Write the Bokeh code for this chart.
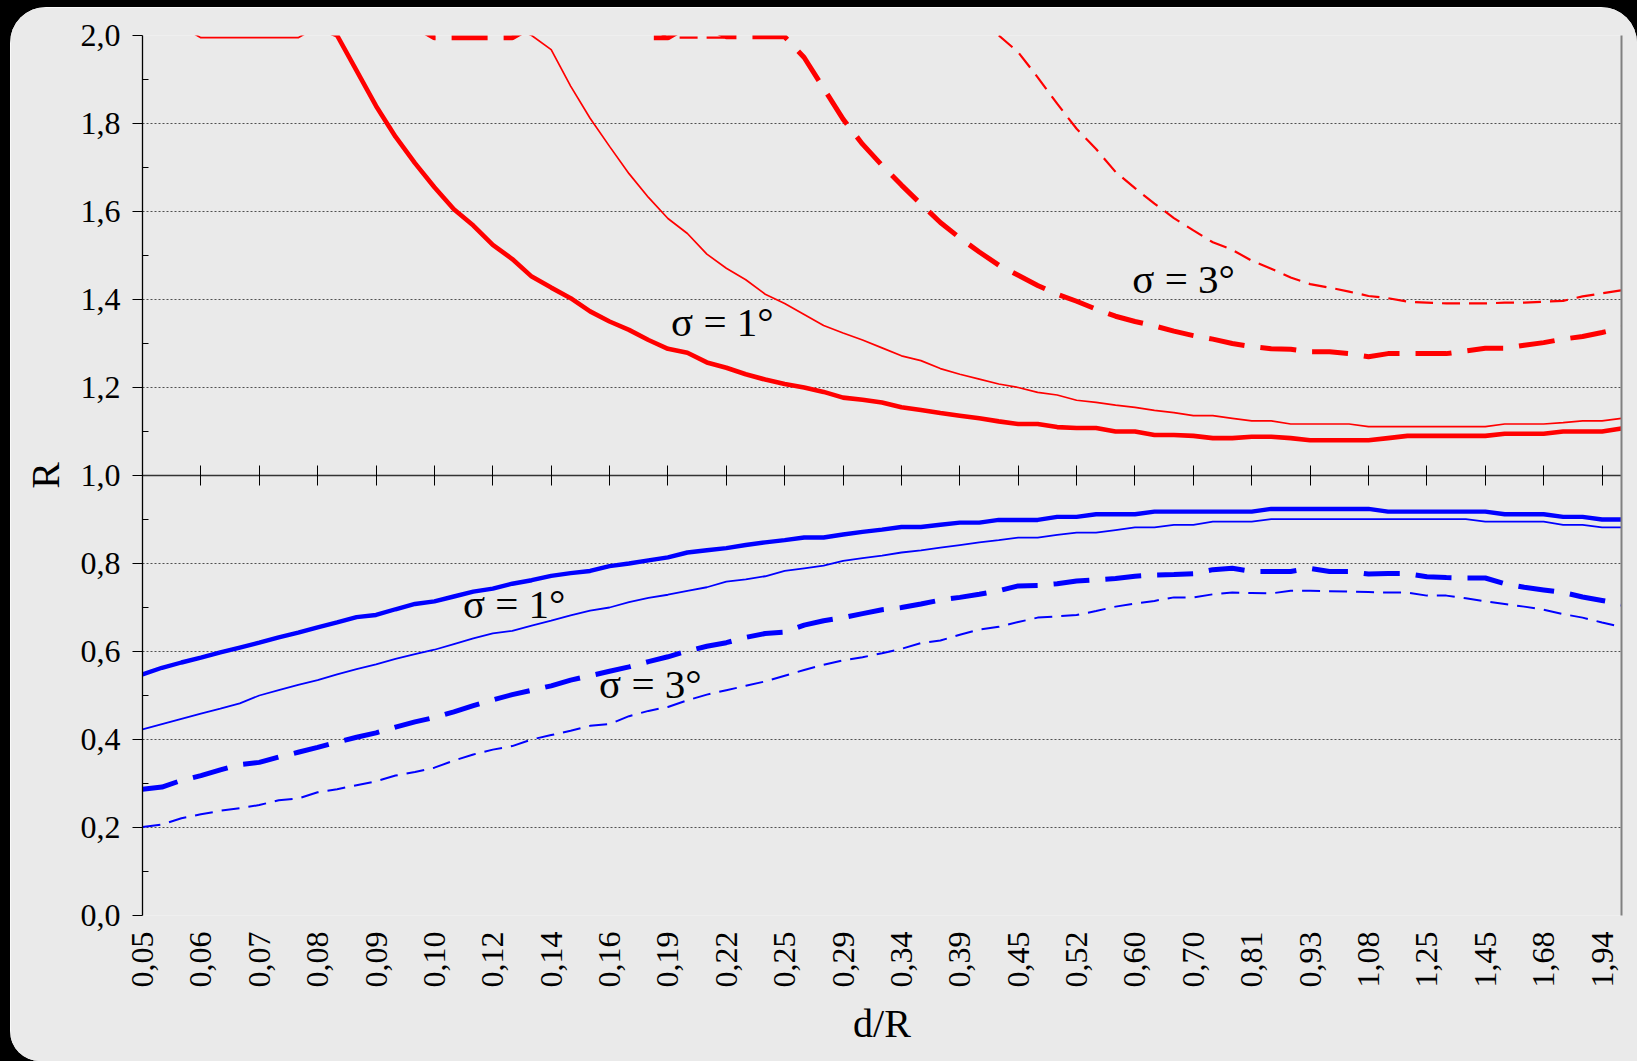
import math
from bokeh.plotting import figure
from bokeh.models import FixedTicker, LinearAxis, Label, CustomJSTickFormatter, Range1d
from bokeh.embed import file_html
from bokeh.resources import INLINE

# ---- data ----
# x: category index (77 categories, a tick label every third category)
tick_labels = ["0,05", "0,06", "0,07", "0,08", "0,09", "0,10", "0,12", "0,14", "0,16",
               "0,19", "0,22", "0,25", "0,29", "0,34", "0,39", "0,45", "0,52", "0,60",
               "0,70", "0,81", "0,93", "1,08", "1,25", "1,45", "1,68", "1,94"]
n_categories = 77
categories = list(range(n_categories))
tick_pos = [3 * k for k in range(len(tick_labels))]

# values shown as 2.02 lie above the axis maximum (off the top of the chart)
# red, sigma = 1 deg, thick solid
red_thick_1 = [2.02, 2.02, 2.02, 2.02, 2.02, 2.02, 2.02, 2.02, 2.02, 2.02, 2.0,
               1.92, 1.84, 1.77, 1.71, 1.655, 1.605, 1.568, 1.524, 1.492, 1.452, 1.427,
               1.403, 1.373, 1.35, 1.331, 1.308, 1.288, 1.279, 1.257, 1.245, 1.23, 1.218,
               1.208, 1.20, 1.19, 1.177, 1.172, 1.166, 1.155, 1.149, 1.142, 1.136, 1.13,
               1.123, 1.117, 1.117, 1.11, 1.108, 1.108, 1.10, 1.10, 1.092, 1.092, 1.09,
               1.085, 1.085, 1.088, 1.088, 1.085, 1.08, 1.08, 1.08, 1.08, 1.085, 1.09,
               1.09, 1.09, 1.09, 1.09, 1.095, 1.095, 1.095, 1.10, 1.10, 1.10, 1.107]
# red, sigma = 1 deg, thin solid
red_thin_1 = [2.02, 2.02, 2.02, 1.995, 1.995, 1.995, 1.995, 1.995, 1.995, 2.02, 2.02,
              2.02, 2.02, 2.02, 2.02, 2.02, 2.02, 2.02, 2.02, 2.02, 2.0,
              1.968, 1.885, 1.812, 1.748, 1.686, 1.632, 1.584, 1.55, 1.503, 1.471, 1.445,
              1.412, 1.391, 1.366, 1.341, 1.324, 1.308, 1.29, 1.272, 1.261, 1.243, 1.23,
              1.219, 1.208, 1.20, 1.189, 1.183, 1.171, 1.166, 1.16, 1.155, 1.148, 1.143,
              1.136, 1.136, 1.13, 1.124, 1.124, 1.117, 1.117, 1.117, 1.117, 1.111, 1.111,
              1.111, 1.111, 1.111, 1.111, 1.111, 1.117, 1.117, 1.117, 1.12, 1.124, 1.124, 1.13]
# red, sigma = 3 deg, thick dashed
red_thick_3 = [2.02, 2.02, 2.02, 2.02, 2.02, 2.02, 2.02, 2.02, 2.02, 2.02, 2.02, 2.02, 2.02,
               2.02, 2.02, 1.995, 1.995, 1.995, 1.995, 1.995, 2.02, 2.02, 2.02, 2.02, 2.02,
               2.02, 1.995, 1.995, 2.02, 2.02, 1.997, 1.997, 1.997, 1.997,
               1.95, 1.88, 1.81, 1.753, 1.705, 1.66, 1.617, 1.575, 1.54, 1.508, 1.478,
               1.455, 1.432, 1.412, 1.396, 1.378, 1.362, 1.35, 1.34, 1.328, 1.318, 1.31,
               1.30, 1.293, 1.288, 1.287, 1.281, 1.281, 1.277, 1.27, 1.277, 1.277, 1.277,
               1.277, 1.283, 1.289, 1.289, 1.296, 1.302, 1.31, 1.316, 1.325, 1.335]
# red, sigma = 3 deg, thin dashed
red_thin_3 = [2.02, 2.02, 2.02, 2.02, 2.02, 2.02, 2.02, 2.02, 2.02, 2.02, 2.02, 2.02, 2.02,
              2.02, 2.02, 2.02, 2.02, 2.02, 2.02, 2.02, 2.02, 2.02, 2.02, 2.02, 2.02, 2.02,
              2.02, 1.995, 1.995, 1.995, 1.995, 2.02, 2.02, 2.02, 2.02, 2.02, 2.02, 2.02,
              2.02, 2.02, 2.02, 2.02, 2.02, 2.02, 2.0,
              1.962, 1.905, 1.845, 1.788, 1.742, 1.69, 1.653, 1.618, 1.585, 1.557, 1.53,
              1.513, 1.488, 1.47, 1.45, 1.435, 1.427, 1.418, 1.408, 1.403, 1.395, 1.393,
              1.391, 1.391, 1.391, 1.393, 1.393, 1.395, 1.397, 1.407, 1.414, 1.421]
# blue, sigma = 1 deg, thick solid
blue_thick_1 = [0.548, 0.563, 0.575, 0.586, 0.598, 0.609, 0.62, 0.632, 0.643, 0.655, 0.666, 0.678,
                0.683, 0.696, 0.708, 0.714, 0.725, 0.736, 0.743, 0.754, 0.762, 0.772, 0.778, 0.783,
                0.794, 0.80, 0.807, 0.814, 0.825, 0.83, 0.835, 0.842, 0.848, 0.853, 0.859, 0.859,
                0.866, 0.872, 0.877, 0.883, 0.883, 0.888, 0.893, 0.893, 0.899, 0.899, 0.899, 0.906,
                0.906, 0.912, 0.912, 0.912, 0.918, 0.918, 0.918, 0.918, 0.918, 0.918,
                0.924, 0.924, 0.924, 0.924, 0.924, 0.924, 0.918, 0.918, 0.918, 0.918, 0.918, 0.918,
                0.912, 0.912, 0.912, 0.906, 0.906, 0.90, 0.90]
# blue, sigma = 1 deg, thin solid
blue_thin_1 = [0.423, 0.435, 0.447, 0.459, 0.47, 0.482, 0.50, 0.512, 0.524, 0.535, 0.548, 0.56,
               0.571, 0.583, 0.594, 0.604, 0.617, 0.63, 0.641, 0.647, 0.659, 0.67, 0.682, 0.693,
               0.70, 0.712, 0.722, 0.729, 0.738, 0.746, 0.759, 0.764, 0.771, 0.783, 0.789, 0.795,
               0.806, 0.812, 0.818, 0.825, 0.83, 0.836, 0.842, 0.848, 0.853, 0.859, 0.859, 0.865,
               0.870, 0.870, 0.876, 0.882, 0.882, 0.888, 0.888, 0.895, 0.895, 0.895,
               0.901, 0.901, 0.901, 0.901, 0.901, 0.901, 0.901, 0.901, 0.901, 0.901, 0.901,
               0.895, 0.895, 0.895, 0.895, 0.888, 0.888, 0.882, 0.882]
# blue, sigma = 3 deg, thick dashed
blue_thick_3 = [0.287, 0.292, 0.307, 0.318, 0.331, 0.343, 0.348, 0.36, 0.371, 0.382, 0.394, 0.405,
                0.415, 0.428, 0.44, 0.45, 0.463, 0.477, 0.49, 0.502, 0.512, 0.522, 0.535, 0.545,
                0.555, 0.565, 0.577, 0.588, 0.601, 0.612, 0.62, 0.632, 0.641, 0.644, 0.66, 0.67,
                0.677, 0.686, 0.695, 0.70, 0.708, 0.717, 0.723, 0.73, 0.738, 0.749, 0.75, 0.754,
                0.76, 0.763, 0.766, 0.771, 0.774, 0.775, 0.777, 0.786, 0.789, 0.782, 0.782, 0.782,
                0.789, 0.782, 0.782, 0.776, 0.777, 0.777, 0.77, 0.768, 0.767, 0.767, 0.754, 0.746,
                0.74, 0.734, 0.724, 0.716, 0.708]
# blue, sigma = 3 deg, thin dashed
blue_thin_3 = [0.201, 0.207, 0.221, 0.23, 0.238, 0.244, 0.251, 0.262, 0.266, 0.28, 0.287, 0.296,
               0.305, 0.318, 0.326, 0.336, 0.352, 0.366, 0.377, 0.385, 0.40, 0.41, 0.42, 0.431,
               0.435, 0.453, 0.465, 0.474, 0.489, 0.502, 0.512, 0.522, 0.532, 0.545, 0.558, 0.57,
               0.58, 0.587, 0.596, 0.606, 0.619, 0.625, 0.638, 0.65, 0.656, 0.667, 0.677, 0.68,
               0.683, 0.692, 0.702, 0.709, 0.715, 0.723, 0.723, 0.73, 0.734, 0.733, 0.732, 0.738,
               0.738, 0.737, 0.736, 0.735, 0.734, 0.734, 0.727, 0.727, 0.721, 0.714, 0.708, 0.702,
               0.695, 0.685, 0.677, 0.666, 0.656]

for s in (red_thick_1, red_thin_1, red_thick_3, red_thin_3,
          blue_thick_1, blue_thin_1, blue_thick_3, blue_thin_3):
    assert len(s) == n_categories, len(s)

y_ticks = [0.0, 0.2, 0.4, 0.6, 0.8, 1.0, 1.2, 1.4, 1.6, 1.8, 2.0]
y_minor = [0.1, 0.3, 0.5, 0.7, 0.9, 1.1, 1.3, 1.5, 1.7, 1.9]
grid_ticks = [0.0, 0.2, 0.4, 0.6, 0.8, 1.2, 1.4, 1.6, 1.8, 2.0]

annotations = [("σ = 1°", 29.8, 1.349), ("σ = 3°", 53.5, 1.447),
               ("σ = 1°", 19.1, 0.708), ("σ = 3°", 26.1, 0.527)]

# ---- figure ----
PANEL = "#EAEAEA"
FONT = "Liberation Serif"

p = figure(width=1627, height=1054, output_backend="svg", toolbar_location=None,
           x_range=Range1d(0, n_categories - 1), y_range=Range1d(0, 2.0),
           min_border_left=132, min_border_right=16, min_border_top=28, min_border_bottom=146,
           background_fill_color=PANEL, border_fill_color=PANEL, outline_line_color=None)
p.styles = {"margin-left": "10px", "margin-top": "7px", "margin-bottom": "-20px",
            "border-radius": "36px 36px 0px 30px", "overflow": "hidden",
            "box-shadow": "0 0 0 60px #000000"}

# bottom axis: labels only
xa = p.xaxis[0]
xa.ticker = FixedTicker(ticks=tick_pos)
xa.major_label_overrides = {t: lab for t, lab in zip(tick_pos, tick_labels)}
xa.major_label_orientation = math.pi / 2
xa.axis_line_color = None
xa.major_tick_line_color = None
xa.minor_tick_line_color = None
xa.major_label_text_font = FONT
xa.major_label_text_font_size = "32px"
xa.major_label_text_color = "black"
xa.major_label_standoff = 10
xa.axis_label = "d/R"
xa.axis_label_text_font = FONT
xa.axis_label_text_font_size = "40px"
xa.axis_label_text_font_style = "normal"
xa.axis_label_text_color = "black"
xa.axis_label_standoff = 10
p.xgrid.visible = False

# left axis
ya = p.yaxis[0]
ya.ticker = FixedTicker(ticks=y_ticks, minor_ticks=y_minor)
ya.formatter = CustomJSTickFormatter(code="return tick.toFixed(1).replace('.', ',');")
ya.major_tick_out = 10
ya.major_tick_in = 0
ya.minor_tick_in = 6
ya.minor_tick_out = 0
ya.axis_line_color = "black"
ya.axis_line_width = 1.3
ya.major_tick_line_color = "black"
ya.minor_tick_line_color = "black"
ya.major_label_text_font = FONT
ya.major_label_text_font_size = "32px"
ya.major_label_text_color = "black"
ya.major_label_standoff = 12
ya.axis_label = "R"
ya.axis_label_text_font = FONT
ya.axis_label_text_font_size = "40px"
ya.axis_label_text_font_style = "normal"
ya.axis_label_text_color = "black"
ya.axis_label_standoff = 10

p.ygrid.ticker = FixedTicker(ticks=grid_ticks)
p.ygrid.grid_line_color = "#505050"
p.ygrid.grid_line_dash = "2 2"
p.ygrid.grid_line_width = 1

# crossing axis at R = 1
mid = LinearAxis(fixed_location=1.0, ticker=FixedTicker(ticks=tick_pos[1:]),
                 major_tick_in=10, major_tick_out=10, minor_tick_line_color=None,
                 major_tick_line_color="black", axis_line_color="#333333", axis_line_width=1.3,
                 major_label_text_font_size="0px", major_label_text_color=None)
p.add_layout(mid, "below")

# right frame edge
ra = LinearAxis(ticker=FixedTicker(ticks=[]), axis_line_color="#808080", axis_line_width=2,
                major_tick_line_color=None, minor_tick_line_color=None,
                major_label_text_font_size="0px")
p.add_layout(ra, "right")

# ---- series ----
p.line(categories, red_thin_3, line_color="#FF0000", line_width=2.2, line_dash="18 9")
p.line(categories, red_thick_3, line_color="#FF0000", line_width=5, line_dash="36 16")
p.line(categories, red_thin_1, line_color="#FF0000", line_width=1.7)
p.line(categories, red_thick_1, line_color="#FF0000", line_width=4.6)
p.line(categories, blue_thin_3, line_color="#0000FF", line_width=2, line_dash="18 9")
p.line(categories, blue_thick_3, line_color="#0000FF", line_width=5, line_dash="36 16")
p.line(categories, blue_thin_1, line_color="#0000FF", line_width=1.8)
p.line(categories, blue_thick_1, line_color="#0000FF", line_width=4.4)

for txt, cx, cy in annotations:
    p.add_layout(Label(x=cx, y=cy, text=txt, text_font=FONT, text_font_size="41px",
                       text_align="center", text_baseline="middle", text_color="black"))

open("out.html", "w").write(file_html(p, INLINE))
